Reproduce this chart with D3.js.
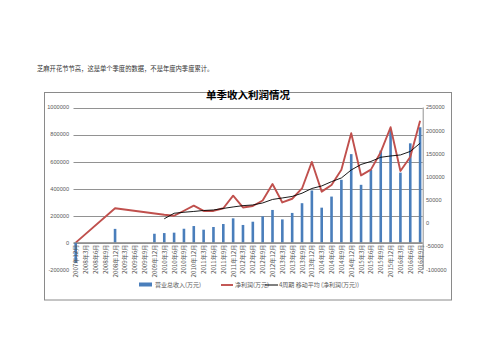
<!DOCTYPE html>
<html><head><meta charset="utf-8">
<script src="https://cdn.jsdelivr.net/npm/d3@7"></script>
<style>body{margin:0;background:#fff}svg{display:block}</style>
</head><body>
<svg id="c" width="503" height="356"></svg>
<script>
const categories = ["2007年12月","2008年3月","2008年6月","2008年9月","2008年12月","2009年3月","2009年6月","2009年9月","2009年12月",
"2010年3月","2010年6月","2010年9月","2010年12月","2011年3月","2011年6月","2011年9月","2011年12月",
"2012年3月","2012年6月","2012年9月","2012年12月","2013年3月","2013年6月","2013年9月","2013年12月",
"2014年3月","2014年6月","2014年9月","2014年12月","2015年3月","2015年6月","2015年9月","2015年12月",
"2016年3月","2016年6月","2016年9月"];
const revenue = [-150000,null,null,null,102000,null,null,null,66000,
71000,74000,103000,123000,96000,116000,138000,180000,
131000,155000,195000,242000,172000,220000,292000,386000,
259000,341000,465000,655000,428000,538000,681000,838000,
518000,735000,854000];
const netProfit = [-41600,null,null,null,32600,null,null,null,null,
18600,16400,27200,38200,26800,26800,32600,59800,
34300,37500,49400,85000,45100,53100,75300,132500,
68400,82900,115900,194400,103400,115900,153600,207400,
113100,143300,221600];
const movingAvg = [null,null,null,null,null,null,null,null,null,
9900,21800,24000,25700,27800,28900,32200,35400,
38200,39700,44000,51600,54800,58100,65000,75300,
80700,90000,98000,115200,127100,133600,142600,145400,
147600,155200,172900];
const leftTicks = [1000000,800000,600000,400000,200000,0,-200000];
const rightTicks = [250000,200000,150000,100000,50000,0,-50000,-100000];
const seriesNames = ["营业总收入(万元)","净利润(万元)","4周期 移动平均 (净利润(万元))"];
const titleText = "单季收入利润情况";
const noteText = "芝麻开花节节高，这是单个季度的数据，不是年度内季度累计。";

const svg = d3.select("#c");
const cjk = "'Noto Sans CJK SC','Noto Sans',sans-serif";
const num = "'Liberation Sans',Arial,sans-serif";

svg.append("text").attr("x",37).attr("y",70.5).attr("font-size",6.3).attr("font-family",cjk)
  .attr("fill","#333").text(noteText);

// chart border
svg.append("rect").attr("x",44.5).attr("y",92.5).attr("width",407).attr("height",207.5)
  .attr("fill","#fff").attr("stroke","#8a8a8a").attr("stroke-width",1);

svg.append("text").attr("x",248).attr("y",98.5).attr("text-anchor","middle").attr("font-size",10.5)
  .attr("font-weight","bold").attr("font-family",cjk).attr("fill","#000").text(titleText);

const x = d3.scalePoint().domain(categories).range([75.7,420.1]);
const yL = d3.scaleLinear().domain([-200000,1000000]).range([269.7,107.5]);
const yR = d3.scaleLinear().domain([-100000,250000]).range([269.7,107.5]);
const plotL = 73.5, plotR = 422.7;

// gridlines
svg.append("g").selectAll("line").data(leftTicks.filter(d=>d>=0)).join("line")
  .attr("x1",plotL).attr("x2",plotR).attr("y1",d=>Math.round(yL(d))+0.5).attr("y2",d=>Math.round(yL(d))+0.5)
  .attr("stroke","#868686").attr("stroke-width",0.9);

// left tick labels
svg.append("g").selectAll("text").data(leftTicks).join("text")
  .attr("x",69).attr("y",d=>yL(d)).attr("dy","0.35em").attr("text-anchor","end")
  .attr("font-size",5.6).attr("font-family",num).attr("fill","#595959").text(d=>d);

// right axis
svg.append("line").attr("x1",plotR+0.5).attr("x2",plotR+0.5).attr("y1",107.5).attr("y2",269.7)
  .attr("stroke","#868686").attr("stroke-width",0.9);
svg.append("g").selectAll("text").data(rightTicks).join("text")
  .attr("x",426).attr("y",d=>yR(d)).attr("dy","0.35em").attr("text-anchor","start")
  .attr("font-size",5.6).attr("font-family",num).attr("fill","#595959").text(d=>d);

// bars
const bw = 2.6;
svg.append("g").selectAll("rect").data(categories.map((c,i)=>({c,v:revenue[i]})).filter(d=>d.v!==null)).join("rect")
  .attr("x",d=>x(d.c)-bw/2).attr("width",bw)
  .attr("y",d=>Math.min(yL(d.v),yL(0))).attr("height",d=>Math.abs(yL(d.v)-yL(0)))
  .attr("fill","#4a7ebb");

// category labels
svg.append("g").selectAll("text").data(categories).join("text")
  .attr("transform",d=>`translate(${x(d)},244.5) rotate(-90)`)
  .attr("text-anchor","end").attr("dominant-baseline","central")
  .attr("font-size",6.2).attr("font-family",cjk).attr("fill","#595959").text(d=>d);

// lines
const np = categories.map((c,i)=>({c,v:netProfit[i]})).filter(d=>d.v!==null);
const ma = categories.map((c,i)=>({c,v:movingAvg[i]})).filter(d=>d.v!==null);
const line = d3.line().x(d=>x(d.c)).y(d=>yR(d.v));
svg.append("path").datum(np).attr("d",line).attr("fill","none").attr("stroke","#c0504d")
  .attr("stroke-width",1.9).attr("stroke-linejoin","round");
svg.append("path").datum(ma).attr("d",line).attr("fill","none").attr("stroke","#000")
  .attr("stroke-width",0.9).attr("stroke-linejoin","round");

// axis line at zero
svg.append("line").attr("x1",plotL).attr("x2",plotR).attr("y1",yL(0)).attr("y2",yL(0))
  .attr("stroke","#868686").attr("stroke-width",0.9);

// legend
const lg = svg.append("g").attr("font-size",6).attr("font-family",cjk).attr("fill","#595959");
lg.append("rect").attr("x",139).attr("y",282.5).attr("width",13).attr("height",4).attr("fill","#4a7ebb");
lg.append("text").attr("x",155).attr("y",285).attr("dy","0.35em").text(seriesNames[0]);
lg.append("line").attr("x1",221).attr("x2",233).attr("y1",285).attr("y2",285).attr("stroke","#c0504d").attr("stroke-width",1.9);
lg.append("text").attr("x",235).attr("y",285).attr("dy","0.35em").text(seriesNames[1]);
lg.append("line").attr("x1",265).attr("x2",278).attr("y1",285).attr("y2",285).attr("stroke","#000").attr("stroke-width",1);
lg.append("text").attr("x",279).attr("y",285).attr("dy","0.35em").text(seriesNames[2]);
</script>
</body></html>
